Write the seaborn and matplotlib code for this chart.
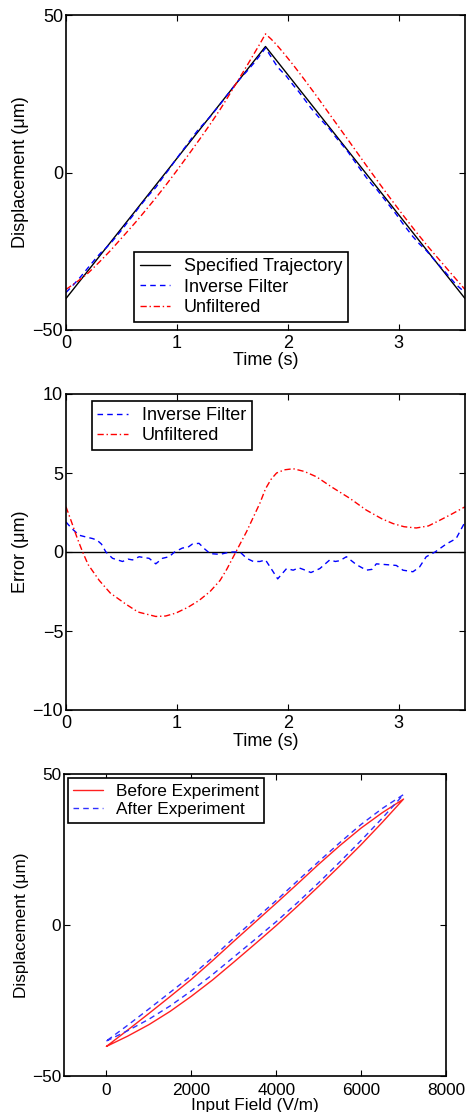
import numpy as np
import pandas as pd
import matplotlib
matplotlib.use("Agg")
import matplotlib.pyplot as plt
import seaborn as sns

# ---------------- data ----------------
# Specified triangular trajectory (um) vs time (s)
traj_t = [0.0, 1.8, 3.6]
traj_y = [-40.0, 40.0, -40.0]

# Tracking error, unfiltered (um)
unf_t = [0.00, 0.05, 0.10, 0.15, 0.20, 0.30, 0.40, 0.54, 0.65, 0.81, 0.90, 0.99,
         1.10, 1.20, 1.30, 1.39, 1.45, 1.51, 1.57, 1.63, 1.69, 1.75, 1.80, 1.85,
         1.90, 1.97, 2.05, 2.15, 2.26, 2.40, 2.56, 2.71, 2.85, 2.95, 3.05, 3.16,
         3.27, 3.37, 3.48, 3.60]
unf_e = [2.86, 1.9, 0.9, 0.0, -0.8, -1.8, -2.6, -3.3, -3.8, -4.08, -4.05, -3.87,
         -3.5, -3.07, -2.5, -1.8, -1.1, -0.3, 0.5, 1.3, 2.2, 3.1, 4.0, 4.6,
         5.0, 5.2, 5.27, 5.1, 4.76, 4.1, 3.4, 2.65, 2.1, 1.8, 1.6, 1.52,
         1.65, 2.0, 2.4, 2.86]

# Tracking error, inverse filter (um)
inv_t = [0.00, 0.05, 0.12, 0.18, 0.24, 0.28, 0.32, 0.36, 0.42, 0.51, 0.56, 0.60,
         0.66, 0.70, 0.75, 0.81, 0.87, 0.93, 0.98, 1.05, 1.10, 1.14, 1.20, 1.25,
         1.30, 1.39, 1.48, 1.57, 1.63, 1.69, 1.75, 1.80, 1.86, 1.91, 1.99, 2.05,
         2.10, 2.14, 2.21, 2.29, 2.38, 2.43, 2.47, 2.53, 2.62, 2.71, 2.76, 2.80,
         2.89, 2.98, 3.04, 3.13, 3.19, 3.25, 3.33, 3.43, 3.52, 3.60]
inv_e = [1.9, 1.5, 1.06, 0.95, 0.85, 0.75, 0.5, 0.0, -0.4, -0.6, -0.45, -0.5,
         -0.3, -0.35, -0.4, -0.75, -0.4, -0.3, 0.0, 0.25, 0.3, 0.5, 0.55, 0.2,
         -0.1, -0.15, 0.0, 0.0, -0.4, -0.6, -0.6, -0.5, -1.15, -1.7, -1.05, -1.15,
         -1.0, -1.1, -1.3, -1.05, -0.5, -0.6, -0.55, -0.3, -0.8, -1.15, -1.1, -0.75,
         -0.8, -0.85, -1.15, -1.25, -0.95, -0.3, 0.0, 0.5, 0.85, 1.9]

# Hysteresis loops: input field (V/m) vs displacement (um)
field = [0, 500, 1000, 1500, 2000, 2500, 3000, 3500, 4000, 4500, 5000, 5500, 6000, 6500, 7000]
before_up = [-40.2, -36.8, -33.0, -28.6, -23.6, -18.2, -12.3, -6.3, -0.2, 6.2, 12.8, 19.6, 26.6, 34.0, 41.7]
before_down = [-40.2, -34.8, -29.3, -23.7, -18.0, -11.8, -5.4, 0.9, 7.2, 13.6, 20.1, 26.3, 32.1, 37.2, 41.7]
after_up = [-38.4, -35.0, -31.2, -26.8, -21.8, -16.4, -10.6, -4.8, 1.1, 7.4, 14.0, 20.9, 28.0, 35.4, 43.2]
after_down = [-38.4, -33.2, -27.8, -22.3, -16.8, -10.8, -4.3, 1.9, 8.1, 14.6, 21.0, 27.3, 33.3, 38.6, 43.2]

# ---------------- style ----------------
sns.set_theme(style="ticks")
plt.rcParams["font.family"] = ["Liberation Sans", "DejaVu Sans"]
FS = 13
FS3 = 12.4
plt.rcParams.update({
    "axes.linewidth": 1.2,
    "axes.edgecolor": "black",
    "axes.labelcolor": "black",
    "text.color": "black",
    "xtick.color": "black",
    "ytick.color": "black",
    "xtick.direction": "in",
    "ytick.direction": "in",
    "xtick.top": True,
    "ytick.right": True,
    "xtick.major.size": 4,
    "ytick.major.size": 4,
    "xtick.major.width": 0.8,
    "ytick.major.width": 0.8,
    "xtick.major.pad": 3.5,
    "ytick.major.pad": 2,
    "font.size": FS,
    "axes.labelsize": FS,
    "xtick.labelsize": FS,
    "ytick.labelsize": FS,
    "legend.fontsize": FS,
})

W, H = 468, 1112
fig = plt.figure(figsize=(W / 100, H / 100), dpi=100)

def px_axes(l, t, r, b):
    return fig.add_axes([l / W, (H - b) / H, (r - l) / W, (b - t) / H])

ax1 = px_axes(66, 15, 465, 330)
ax2 = px_axes(66, 394, 465, 710)
ax3 = px_axes(64, 774, 446, 1076)

DASH = (4, 3)
DASHDOT = (4.5, 2, 1, 2)

def style_legend(ax, fs=FS, **kw):
    leg = ax.legend(frameon=True, fancybox=False, shadow=False, handlelength=1.7,
                    handletextpad=0.75, labelspacing=0.18, borderpad=0.33,
                    borderaxespad=0.0, fontsize=fs, **kw)
    leg.get_frame().set_edgecolor("black")
    leg.get_frame().set_linewidth(1.2)
    leg.get_frame().set_alpha(1)
    return leg

# ---------- panel 1: trajectory ----------
traj_df = pd.DataFrame({"t": traj_t, "y": traj_y})
inv_df = pd.DataFrame({"t": inv_t, "y": np.interp(inv_t, traj_t, traj_y) + np.array(inv_e)})
unf_df = pd.DataFrame({"t": unf_t, "y": np.interp(unf_t, traj_t, traj_y) + np.array(unf_e)})

sns.lineplot(data=traj_df, x="t", y="y", ax=ax1, color="black", lw=1.0,
             label="Specified Trajectory", sort=False, estimator=None)
sns.lineplot(data=inv_df, x="t", y="y", ax=ax1, color="#0000ff", lw=1.0,
             label="Inverse Filter", sort=False, estimator=None)
ax1.lines[-1].set_dashes(DASH)
sns.lineplot(data=unf_df, x="t", y="y", ax=ax1, color="#ff0000", lw=1.0,
             label="Unfiltered", sort=False, estimator=None)
ax1.lines[-1].set_dashes(DASHDOT)
ax1.set_xlim(0, 3.6)
ax1.set_ylim(-50, 50)
ax1.set_xticks([0, 1, 2, 3])
ax1.set_yticks([-50, 0, 50])
ax1.set_xlabel("Time (s)", labelpad=0)
ax1.set_ylabel("Displacement (\u03bcm)")
ax1.yaxis.set_label_coords(-0.092, 0.5)
style_legend(ax1, loc="lower left", bbox_to_anchor=(0.17, 0.026))

# ---------- panel 2: error ----------
inv_err_df = pd.DataFrame({"t": inv_t, "e": inv_e})
unf_err_df = pd.DataFrame({"t": unf_t, "e": unf_e})
ax2.axhline(0, color="black", lw=1.0)
sns.lineplot(data=inv_err_df, x="t", y="e", ax=ax2, color="#0000ff", lw=1.0,
             label="Inverse Filter", sort=False, estimator=None)
ax2.lines[-1].set_dashes(DASH)
sns.lineplot(data=unf_err_df, x="t", y="e", ax=ax2, color="#ff0000", lw=1.0,
             label="Unfiltered", sort=False, estimator=None)
ax2.lines[-1].set_dashes(DASHDOT)
ax2.set_xlim(0, 3.6)
ax2.set_ylim(-10, 10)
ax2.set_xticks([0, 1, 2, 3])
ax2.set_yticks([-10, -5, 0, 5, 10])
ax2.set_xlabel("Time (s)", labelpad=1)
ax2.set_ylabel("Error (\u03bcm)")
ax2.yaxis.set_label_coords(-0.092, 0.5)
style_legend(ax2, loc="upper left", bbox_to_anchor=(0.064, 0.978))

# ---------- panel 3: hysteresis ----------
before_df = pd.DataFrame({"E": field + field[::-1], "d": before_up + before_down[::-1]})
after_df = pd.DataFrame({"E": field + field[::-1], "d": after_up + after_down[::-1]})
sns.lineplot(data=before_df, x="E", y="d", ax=ax3, color="#ff2020", lw=1.0,
             label="Before Experiment", sort=False, estimator=None)
sns.lineplot(data=after_df, x="E", y="d", ax=ax3, color="#3030ff", lw=1.0,
             label="After Experiment", sort=False, estimator=None)
ax3.lines[-1].set_dashes(DASH)
ax3.set_xlim(-1000, 8000)
ax3.set_ylim(-50, 50)
ax3.set_xticks([0, 2000, 4000, 6000, 8000])
ax3.set_yticks([-50, 0, 50])
ax3.tick_params(labelsize=FS3)
ax3.tick_params(axis="x", pad=5)
ax3.set_xlabel("Input Field (V/m)", labelpad=0, fontsize=FS3)
ax3.set_ylabel("Displacement (\u03bcm)", fontsize=FS3)
ax3.yaxis.set_label_coords(-0.092, 0.5)
style_legend(ax3, fs=FS3, loc="upper left", bbox_to_anchor=(0.0097, 0.986))

for ax in (ax1, ax2, ax3):
    for s in ax.spines.values():
        s.set_visible(True)
        s.set_color("black")

fig.savefig("out.png", dpi=100)
